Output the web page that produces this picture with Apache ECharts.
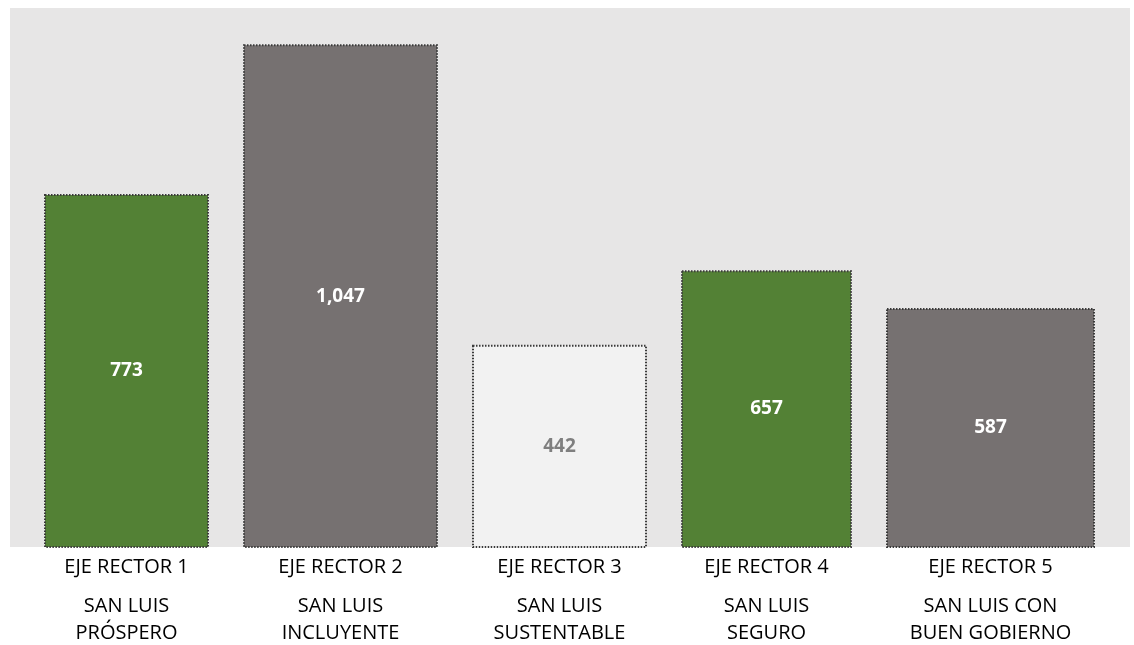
<!DOCTYPE html>
<html>
<head>
<meta charset="utf-8">
<script src="https://cdn.jsdelivr.net/npm/echarts@6/dist/echarts.min.js"></script>
<style>
    html, body { margin: 0; padding: 0; background: #fff; }
    #grafica { width: 1134px; height: 645px; }
</style>
</head>
<body>
<div id="grafica"></div>
<script>
    // datos
    var ejes = ['EJE RECTOR 1', 'EJE RECTOR 2', 'EJE RECTOR 3', 'EJE RECTOR 4', 'EJE RECTOR 5'];
    var nombres = ['SAN LUIS\nPRÓSPERO', 'SAN LUIS\nINCLUYENTE', 'SAN LUIS\nSUSTENTABLE', 'SAN LUIS\nSEGURO', 'SAN LUIS CON\nBUEN GOBIERNO'];
    var valores = [773, 1047, 442, 657, 587];
    // en el original las barras no estan a escala: alto dibujado de cada una
    var alturas = [773, 1102, 442, 606, 523];
    // ancho relativo de cada barra
    var anchos = [163, 193, 173, 169, 207];

    var colores = ['#538135', '#767171', '#f2f2f2', '#538135', '#767171'];
    var coloresTexto = ['#ffffff', '#ffffff', '#7f7f7f', '#ffffff', '#ffffff'];
    var separacion = 36;
    var margen = 35;

    var datos = [];
    var pos = margen;
    for (var i = 0; i < valores.length; i++) {
        datos.push([pos, pos + anchos[i], alturas[i], valores[i]]);
        pos += anchos[i] + separacion;
    }
    var total = pos - separacion + margen + 1;

    function renderItem(params, api) {
        var idx = params.dataIndex;
        var p0 = api.coord([api.value(0), api.value(2)]);
        var p1 = api.coord([api.value(1), 0]);
        var cx = (p0[0] + p1[0]) / 2;
        return {
            type: 'group',
            children: [
                {
                    type: 'rect',
                    shape: { x: p0[0], y: p0[1], width: p1[0] - p0[0], height: p1[1] - p0[1] },
                    style: { fill: colores[idx], stroke: '#3a3a3a', lineWidth: 2, lineDash: [1.5, 1.5] }
                },
                {
                    type: 'text',
                    style: {
                        text: api.value(3).toLocaleString('en-US'),
                        x: cx, y: (p0[1] + p1[1]) / 2,
                        align: 'center', verticalAlign: 'middle',
                        fill: coloresTexto[idx],
                        fontFamily: 'Open Sans', fontWeight: 'bold', fontSize: 19
                    }
                },
                {
                    type: 'text',
                    style: {
                        text: ejes[idx],
                        x: cx, y: p1[1] + 20,
                        align: 'center', verticalAlign: 'middle',
                        fill: '#000000',
                        fontFamily: 'Open Sans', fontSize: 20
                    }
                },
                {
                    type: 'text',
                    style: {
                        text: nombres[idx],
                        x: cx, y: p1[1] + 46,
                        align: 'center', verticalAlign: 'top',
                        lineHeight: 27,
                        fill: '#000000',
                        fontFamily: 'Open Sans', fontSize: 20
                    }
                }
            ]
        };
    }

    var myChart = echarts.init(document.getElementById('grafica'));
    var option = {
        animation: false,
        grid: {
            left: 10, top: 8, right: 4, bottom: 98,
            show: true,
            backgroundColor: '#e7e6e6',
            borderWidth: 0
        },
        xAxis: {
            type: 'value',
            min: 0, max: total,
            show: false
        },
        yAxis: {
            type: 'value',
            min: 0, max: 1184,
            show: false
        },
        series: [
            {
                type: 'custom',
                renderItem: renderItem,
                clip: false,
                encode: { x: [0, 1], y: 2 },
                data: datos
            }
        ]
    };
    myChart.setOption(option);
</script>
</body>
</html>
